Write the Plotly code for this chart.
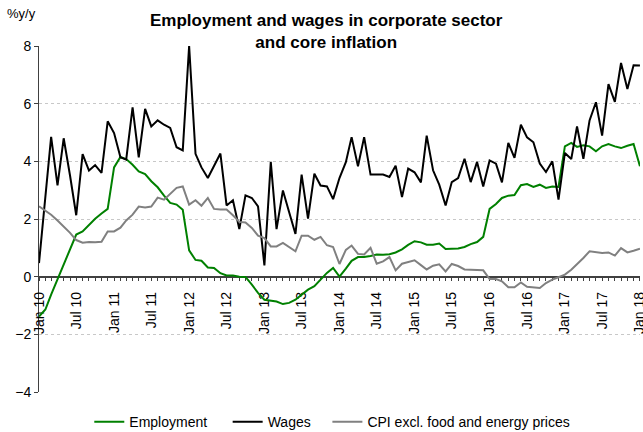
import pandas as pd
import plotly.graph_objects as go

months = pd.date_range("2010-01-01", periods=97, freq="MS")

employment = [
    -1.38, -1.14, -0.62, -0.10, 0.42, 0.94, 1.46, 1.57, 1.80, 2.01, 2.19, 2.35,
    3.79, 4.15, 4.08, 3.88, 3.65, 3.56, 3.31, 3.10, 2.81, 2.56, 2.50, 2.32,
    0.91, 0.58, 0.55, 0.32, 0.30, 0.12, 0.04, 0.04, 0.00, -0.01, -0.28, -0.56,
    -0.80, -0.82, -0.86, -0.95, -0.91, -0.80, -0.62, -0.45, -0.33, -0.10, 0.13, 0.30,
    0.00, 0.28, 0.55, 0.68, 0.68, 0.72, 0.77, 0.76, 0.78, 0.84, 0.95, 1.10,
    1.23, 1.19, 1.11, 1.11, 1.15, 0.96, 0.96, 0.98, 1.03, 1.13, 1.20, 1.38,
    2.35, 2.52, 2.73, 2.81, 2.83, 3.17, 3.21, 3.11, 3.19, 3.08, 3.13, 3.11,
    4.52, 4.64, 4.50, 4.56, 4.52, 4.35, 4.52, 4.60, 4.52, 4.46, 4.54, 4.60,
    3.83,
]

wages = [
    0.47, 2.80, 4.85, 3.17, 4.80, 3.50, 2.13, 4.25, 3.68, 3.87, 3.60, 5.39,
    4.98, 4.14, 4.06, 5.87, 4.14, 5.82, 5.21, 5.42, 5.27, 5.16, 4.49, 4.38,
    8.00, 4.26, 3.79, 3.42, 3.85, 4.27, 2.47, 2.65, 1.65, 2.82, 2.73, 2.44,
    0.39, 3.98, 1.65, 2.99, 2.24, 1.48, 3.54, 2.01, 3.57, 3.16, 3.13, 2.69,
    3.42, 3.97, 4.84, 3.83, 4.84, 3.54, 3.54, 3.54, 3.46, 3.85, 2.76, 3.75,
    3.62, 3.27, 4.89, 3.69, 3.19, 2.47, 3.28, 3.42, 4.09, 3.28, 3.98, 3.13,
    4.03, 3.92, 3.27, 4.64, 4.12, 5.27, 4.83, 4.66, 3.92, 3.63, 4.00, 2.67,
    4.29, 4.08, 5.21, 4.09, 5.42, 6.05, 4.89, 6.68, 6.06, 7.41, 6.51, 7.33,
    7.32,
]

cpi_core = [
    2.44, 2.29, 2.15, 1.95, 1.75, 1.52, 1.27, 1.18, 1.20, 1.19, 1.21, 1.57,
    1.57, 1.70, 1.95, 2.15, 2.43, 2.40, 2.43, 2.74, 2.67, 2.88, 3.08, 3.13,
    2.50, 2.65, 2.46, 2.73, 2.35, 2.33, 2.33, 2.13, 1.90, 1.88, 1.69, 1.42,
    1.34, 1.05, 1.05, 1.17, 1.03, 0.88, 1.42, 1.42, 1.28, 1.38, 1.09, 1.03,
    0.44, 0.93, 1.08, 0.79, 0.77, 1.00, 0.45, 0.53, 0.68, 0.22, 0.45, 0.50,
    0.57, 0.40, 0.25, 0.38, 0.43, 0.18, 0.44, 0.37, 0.25, 0.24, 0.23, 0.22,
    -0.08, -0.08, -0.16, -0.37, -0.37, -0.20, -0.35, -0.37, -0.39, -0.22, -0.10, -0.02,
    0.07, 0.24, 0.42, 0.65, 0.88, 0.86, 0.82, 0.84, 0.73, 0.99, 0.84, 0.90,
    0.97,
]

series_names = ["Employment", "Wages", "CPI excl. food and energy prices"]
series_colors = ["#008000", "#000000", "#808080"]
legend_pad = ["\u00a0\u00a0\u00a0\u00a0", "\u00a0\u00a0\u00a0", ""]
y_ticks = [-4, -2, 0, 2, 4, 6, 8]

FONT = "Liberation Sans, Arial, sans-serif"

fig = go.Figure()
for name, pad, vals, col in zip(series_names, legend_pad, [employment, wages, cpi_core], series_colors):
    fig.add_trace(go.Scatter(
        x=months, y=vals, mode="lines", name=name + pad,
        line=dict(color=col, width=2),
    ))

fig.update_layout(
    width=643, height=432,
    margin=dict(l=39, r=3, t=46, b=40, autoexpand=False),
    paper_bgcolor="white", plot_bgcolor="white",
    font=dict(family=FONT, size=12, color="black"),
    showlegend=True,
    legend=dict(
        orientation="h", x=0.488, xanchor="center",
        yref="container", y=0.023, yanchor="middle",
        font=dict(family=FONT, size=14), itemwidth=30,
        tracegroupgap=0,
    ),
    xaxis=dict(
        type="date",
        range=["2010-01-01", "2018-01-01 06:00"],
        anchor="free", position=1/3,
        tick0="2010-01-01", dtick="M6", tickformat="%b %y",
        tickangle=-90,
        ticks="outside", ticklen=4, tickcolor="#404040",
        minor=dict(dtick="M1", tick0="2010-01-01", ticks="outside", ticklen=4, tickcolor="#404040"),
        showgrid=False,
        showline=True, linecolor="#404040", linewidth=1.5,
        tickfont=dict(family=FONT, size=14, color="black"),
        ticklabeloverflow="allow",
        ticklabelstandoff=5,
        layer="below traces",
    ),
    yaxis=dict(
        range=[-4, 8], tickvals=y_ticks,
        ticks="outside", ticklen=4, tickcolor="#404040",
        showline=True, linecolor="#404040", linewidth=1,
        showgrid=True, gridcolor="#c8c8c8", griddash="dot", gridwidth=1,
        zeroline=False,
        tickfont=dict(family=FONT, size=14, color="black"),
        layer="below traces",
    ),
)

fig.add_annotation(
    text="<b>Employment and wages in corporate sector<br>and core inflation</b>",
    xref="paper", yref="paper", x=0.478, y=1.042,
    xanchor="center", yanchor="middle", showarrow=False,
    font=dict(family=FONT, size=17, color="black"),
)

fig.add_annotation(
    text="%y/y", xref="paper", yref="paper", x=-0.057, y=1.095,
    xanchor="left", yanchor="middle", showarrow=False,
    font=dict(family=FONT, size=13, color="black"),
)

fig.write_html("out.html")
